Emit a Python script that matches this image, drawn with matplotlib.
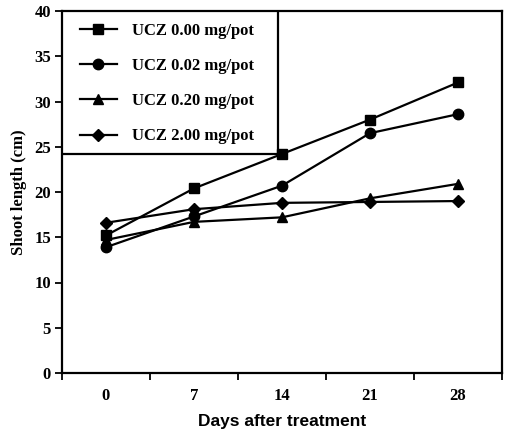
import matplotlib
matplotlib.use("Agg")
import matplotlib.pyplot as plt
from matplotlib.patches import Rectangle
import numpy as np

categories = ["0", "7", "14", "21", "28"]
ucz_000 = [15.2, 20.4, 24.2, 28.0, 32.1]
ucz_002 = [13.9, 17.3, 20.7, 26.5, 28.6]
ucz_020 = [14.7, 16.7, 17.2, 19.3, 20.9]
ucz_200 = [16.6, 18.1, 18.8, 18.9, 19.0]
labels = ["UCZ 0.00 mg/pot", "UCZ 0.02 mg/pot", "UCZ 0.20 mg/pot", "UCZ 2.00 mg/pot"]
yticks = [0, 5, 10, 15, 20, 25, 30, 35, 40]

fig = plt.figure(figsize=(5.08, 4.29), dpi=100)
ax = fig.add_axes([62/508, 1-373/429, (502-62)/508, (373-11)/429])

x = np.arange(len(categories))
series = [ucz_000, ucz_002, ucz_020, ucz_200]
markers = ["s", "o", "^", "D"]
msizes = [7, 7.5, 7, 6]
for s, m, ms, lab in zip(series, markers, msizes, labels):
    ax.plot(x, s, color="black", marker=m, markersize=ms, linewidth=1.6,
            label=lab, zorder=6)

ax.set_xlim(-0.5, 4.5)
ax.set_ylim(0, 40)
ax.set_xticks(np.arange(-0.5, 5.0, 1.0))
ax.set_xticklabels([])
ax.set_xticks(x, minor=True)
ax.set_xticklabels(categories, minor=True, fontfamily="Liberation Serif",
                   fontweight="bold", fontsize=12)
ax.tick_params(axis="x", which="major", direction="out", length=5, width=1.3)
ax.tick_params(axis="x", which="minor", length=0, pad=11)
ax.set_yticks(yticks)
ax.set_yticklabels([str(v) for v in yticks], fontfamily="Liberation Serif",
                   fontweight="bold", fontsize=12)
ax.tick_params(axis="y", direction="out", length=5, width=1.3, pad=3)
for sp in ax.spines.values():
    sp.set_linewidth(1.6)

ax.set_xlabel("Days after treatment", fontfamily="Liberation Sans",
              fontweight="bold", fontsize=12.5, labelpad=7)
ax.set_ylabel("Shoot length (cm)", fontfamily="Liberation Serif",
              fontweight="bold", fontsize=12, labelpad=5)

# legend box frame (drawn separately to match the asymmetric padding)
ax.add_patch(Rectangle((0, (373-154)/362), (278-62)/440, 1-(373-154)/362,
                       transform=ax.transAxes, facecolor="white",
                       edgecolor="black", linewidth=1.6, zorder=4))
leg = ax.legend(loc="upper left", bbox_to_anchor=((80-62)/440, 1-12/362),
                borderaxespad=0, borderpad=0, frameon=False,
                prop={"family": "Liberation Serif", "weight": "bold", "size": 12},
                handlelength=2.2, handletextpad=0.9, labelspacing=1.15)
leg.set_zorder(5)

fig.savefig("out.png", dpi=100)
